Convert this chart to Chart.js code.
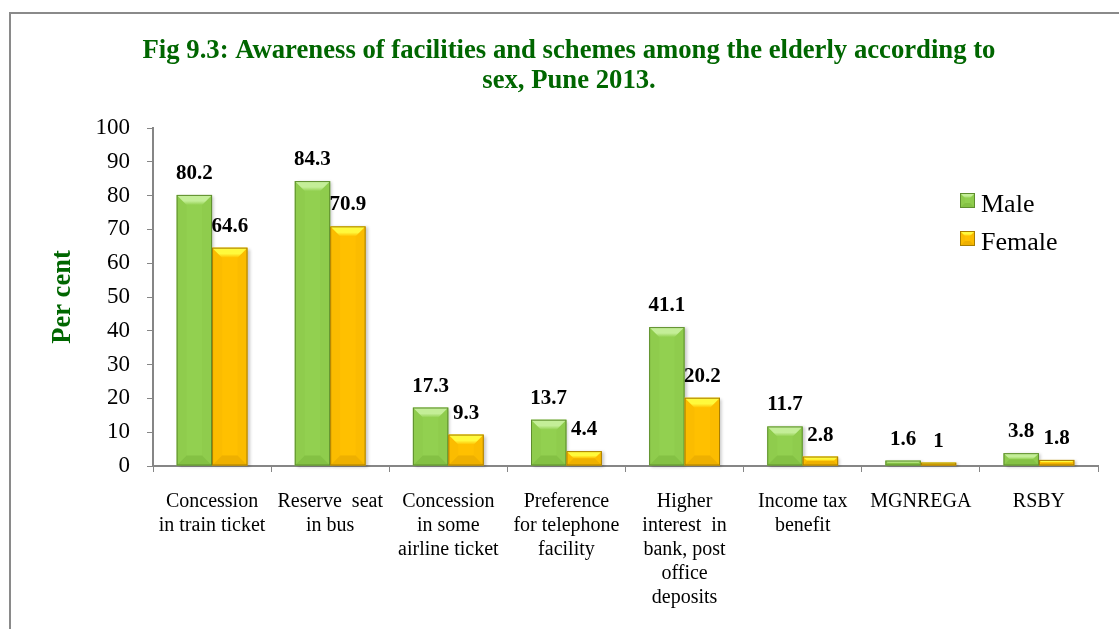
<!DOCTYPE html>
<html>
<head>
<meta charset="utf-8">
<script src="https://cdn.jsdelivr.net/npm/chart.js@4"></script>
<style>
  html, body { margin: 0; padding: 0; background: #fff; }
  #wrap { position: relative; width: 1119px; height: 629px; }
  canvas { display: block; }
</style>
</head>
<body>
<div id="wrap"><canvas id="c" width="1119" height="629"></canvas></div>
<script>
// ---- data ----
const titleLines = [
  'Fig 9.3: Awareness of facilities and schemes among the elderly according to',
  'sex, Pune 2013.'
];
const categories = [
  ['Concession', 'in train ticket'],
  ['Reserve  seat', 'in bus'],
  ['Concession', 'in some', 'airline ticket'],
  ['Preference', 'for telephone', 'facility'],
  ['Higher', 'interest  in', 'bank, post', 'office', 'deposits'],
  ['Income tax', 'benefit'],
  ['MGNREGA'],
  ['RSBY']
];
const seriesNames = ['Male', 'Female'];
const maleValues = [80.2, 84.3, 17.3, 13.7, 41.1, 11.7, 1.6, 3.8];
const femaleValues = [64.6, 70.9, 9.3, 4.4, 20.2, 2.8, 1, 1.8];
const yAxisTitle = 'Per cent';
const yMin = 0, yMax = 100, yStep = 10;

// ---- styles ----
const SERIF = '"Liberation Serif", "Times New Roman", serif';
const palette = [
  { face: '#92D050', light: '#C4EE98', dark: '#78B53A', border: '#5E8E2E' },
  { face: '#FFC000', light: '#FFFA3C', dark: '#E0A200', border: '#A87E00' }
];

function bevelBar(ctx, left, top, right, bottom, pal, bsize, shadow) {
  const w = right - left, h = bottom - top;
  if (h <= 0) return;
  const b = Math.min(bsize, h / 2, w / 2);
  ctx.save();
  if (shadow) {
    ctx.shadowColor = 'rgba(0,0,0,0.22)';
    ctx.shadowBlur = 3;
    ctx.shadowOffsetX = 2;
    ctx.shadowOffsetY = 1;
  }
  ctx.fillStyle = pal.face;
  ctx.fillRect(left, top, w, h);
  ctx.restore();
  ctx.save();
  // sides (very subtle darker)
  ctx.fillStyle = pal.dark;
  ctx.globalAlpha = 0.12;
  ctx.beginPath();
  ctx.moveTo(left, top); ctx.lineTo(left + b, top + b);
  ctx.lineTo(left + b, bottom - b); ctx.lineTo(left, bottom);
  ctx.closePath(); ctx.fill();
  ctx.beginPath();
  ctx.moveTo(right, top); ctx.lineTo(right - b, top + b);
  ctx.lineTo(right - b, bottom - b); ctx.lineTo(right, bottom);
  ctx.closePath(); ctx.fill();
  // bottom bevel
  ctx.globalAlpha = 0.55;
  ctx.beginPath();
  ctx.moveTo(left, bottom); ctx.lineTo(right, bottom);
  ctx.lineTo(right - b, bottom - b); ctx.lineTo(left + b, bottom - b);
  ctx.closePath(); ctx.fill();
  ctx.globalAlpha = 1;
  // top bevel
  const gTop = ctx.createLinearGradient(0, top, 0, top + b);
  gTop.addColorStop(0, pal.light);
  gTop.addColorStop(0.6, pal.light);
  gTop.addColorStop(1, pal.face);
  ctx.fillStyle = gTop;
  ctx.beginPath();
  ctx.moveTo(left, top); ctx.lineTo(right, top);
  ctx.lineTo(right - b, top + b); ctx.lineTo(left + b, top + b);
  ctx.closePath(); ctx.fill();
  ctx.strokeStyle = pal.border;
  ctx.lineWidth = 1;
  ctx.strokeRect(left + 0.5, top + 0.5, w - 1, h - 1);
  ctx.restore();
}

const decorPlugin = {
  id: 'decor',
  beforeDraw(chart) {
    const ctx = chart.ctx;
    ctx.save();
    ctx.fillStyle = '#fff';
    ctx.fillRect(0, 0, chart.width, chart.height);
    // frame
    ctx.strokeStyle = '#8A8A8A';
    ctx.lineWidth = 2;
    ctx.beginPath();
    ctx.moveTo(10, chart.height);
    ctx.lineTo(10, 13);
    ctx.lineTo(chart.width, 13);
    ctx.stroke();
    // title
    ctx.fillStyle = '#006600';
    ctx.font = 'bold 26.7px ' + SERIF;
    ctx.textAlign = 'center';
    ctx.textBaseline = 'alphabetic';
    titleLines.forEach((t, i) => ctx.fillText(t, 569, 58 + i * 30));
    ctx.restore();
  },
  afterDatasetsDraw(chart) {
    const ctx = chart.ctx;
    chart.data.datasets.forEach((ds, di) => {
      const meta = chart.getDatasetMeta(di);
      meta.data.forEach((bar, i) => {
        const p = bar.getProps(['x', 'y', 'base', 'width'], true);
        bevelBar(ctx, p.x - p.width / 2, p.y, p.x + p.width / 2, p.base, palette[di], 10, true);
      });
    });
    // value labels
    ctx.save();
    ctx.fillStyle = '#000';
    ctx.font = 'bold 21px ' + SERIF;
    ctx.textAlign = 'center';
    ctx.textBaseline = 'alphabetic';
    chart.data.datasets.forEach((ds, di) => {
      const meta = chart.getDatasetMeta(di);
      meta.data.forEach((bar, i) => {
        const p = bar.getProps(['x', 'y'], true);
        ctx.fillText(String(ds.data[i]), p.x, p.y - 16);
      });
    });
    ctx.restore();
    // legend
    ctx.save();
    ctx.font = '26px ' + SERIF;
    ctx.textAlign = 'left';
    ctx.textBaseline = 'alphabetic';
    chart.data.datasets.forEach((ds, di) => {
      const y0 = 193 + di * 38;
      bevelBar(ctx, 960, y0, 975, y0 + 15, palette[di], 5, false);
      ctx.fillStyle = '#000';
      ctx.fillText(ds.label, 981, y0 + 19);
    });
    ctx.restore();
  }
};

new Chart(document.getElementById('c'), {
  type: 'bar',
  data: {
    labels: categories,
    datasets: [
      { label: seriesNames[0], data: maleValues, backgroundColor: 'rgba(0,0,0,0)', borderWidth: 0 },
      { label: seriesNames[1], data: femaleValues, backgroundColor: 'rgba(0,0,0,0)', borderWidth: 0 }
    ]
  },
  options: {
    responsive: false,
    animation: false,
    devicePixelRatio: 1,
    categoryPercentage: 0.6,
    barPercentage: 1.0,
    layout: { padding: { left: 0, top: 128, right: 21, bottom: 0 } },
    plugins: {
      legend: { display: false },
      title: { display: false },
      tooltip: { enabled: false }
    },
    scales: {
      x: {
        grid: { drawOnChartArea: false, drawTicks: true, tickLength: 6, color: '#868686', offset: true },
        border: { color: '#868686', width: 2 },
        ticks: {
          color: '#000',
          font: { family: SERIF, size: 20, lineHeight: 1.2 },
          padding: 18,
          maxRotation: 0,
          autoSkip: false
        },
        afterFit(scale) { scale.height = 163; }
      },
      y: {
        min: yMin, max: yMax,
        grid: { drawOnChartArea: false, drawTicks: true, tickLength: 6, color: '#868686' },
        border: { color: '#868686', width: 2 },
        ticks: {
          stepSize: yStep,
          color: '#000',
          font: { family: SERIF, size: 23 },
          padding: 17
        },
        title: {
          display: true,
          text: yAxisTitle,
          color: '#006600',
          font: { family: SERIF, size: 26.5, weight: 'bold' },
          padding: { top: 47, bottom: 0 }
        },
        afterFit(scale) { scale.width = 153; }
      }
    }
  },
  plugins: [decorPlugin]
});
</script>
</body>
</html>
